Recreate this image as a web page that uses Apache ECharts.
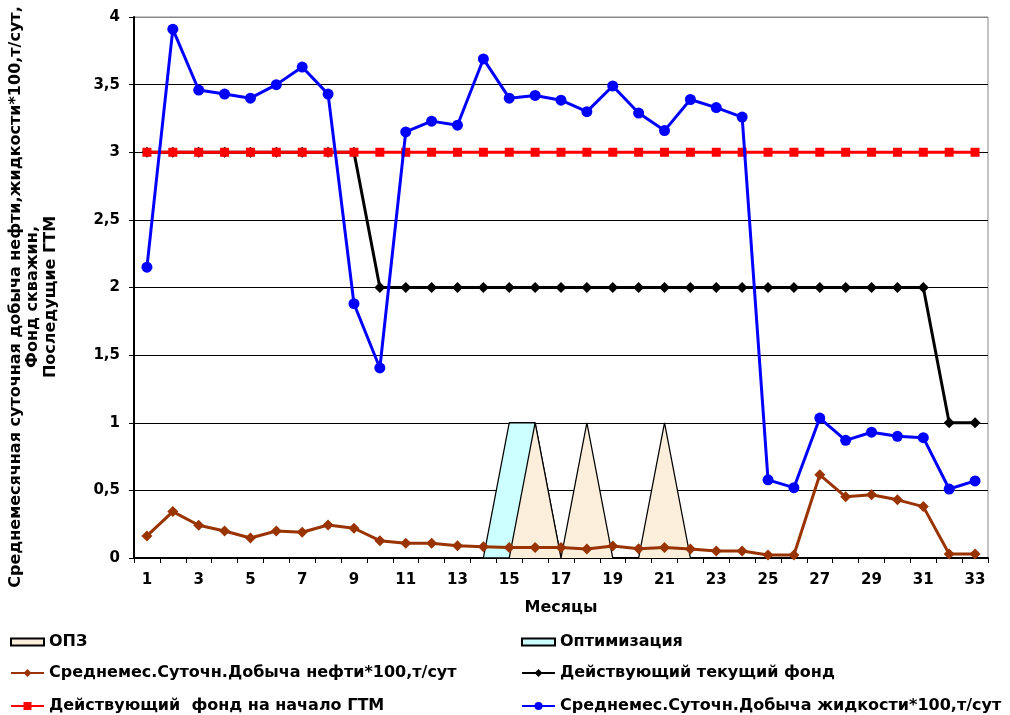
<!DOCTYPE html>
<html>
<head>
<meta charset="utf-8">
<script src="https://cdn.jsdelivr.net/npm/echarts@6/dist/echarts.min.js"></script>
<style>
  html, body { margin: 0; padding: 0; background: #fff; }
  #chart { width: 1010px; height: 715px; }
</style>
</head>
<body>
<div id="chart"></div>
<script>
// Months 1..33
const months = [];
for (let m = 1; m <= 33; m++) months.push(String(m));

// Well treatments (ОПЗ) and optimisation events, 1 = event in that month
const opzValues = [0,0,0,0,0,0,0,0,0,0,0,0,0,0,0,1,0,1,0,0,1,0,0,0,0,0,0,0,0,0,0,0,0];
const optimValues = [0,0,0,0,0,0,0,0,0,0,0,0,0,0,1,1,0,0,0,0,0,0,0,0,0,0,0,0,0,0,0,0,0];

// Average daily oil production *100, t/day
const oilValues = [0.163,0.343,0.242,0.20,0.148,0.20,0.19,0.244,0.22,0.128,0.109,0.109,0.091,0.084,0.077,0.077,0.077,0.067,0.089,0.069,0.077,0.067,0.052,0.052,0.022,0.022,0.615,0.452,0.467,0.43,0.38,0.03,0.03];

// Active current well stock
const currentFund = [3,3,3,3,3,3,3,3,3,2,2,2,2,2,2,2,2,2,2,2,2,2,2,2,2,2,2,2,2,2,2,1,1];

// Active stock at the start of the measures
const startFund = [3,3,3,3,3,3,3,3,3,3,3,3,3,3,3,3,3,3,3,3,3,3,3,3,3,3,3,3,3,3,3,3,3];

// Average daily liquid production *100, t/day
const liquidValues = [2.15,3.91,3.46,3.43,3.40,3.50,3.63,3.43,1.88,1.405,3.15,3.23,3.20,3.69,3.40,3.42,3.385,3.30,3.49,3.29,3.16,3.39,3.33,3.26,0.578,0.52,1.035,0.87,0.93,0.90,0.89,0.51,0.57];

const yTicks = { min: 0, max: 4, interval: 0.5 };

const FONT = 'DejaVu Sans';

const names = {
  opz: 'ОПЗ',
  optim: 'Оптимизация',
  oil: 'Среднемес.Суточн.Добыча нефти*100,т/сут',
  cur: 'Действующий текущий фонд',
  start: 'Действующий  фонд на начало ГТМ',
  liq: 'Среднемес.Суточн.Добыча жидкости*100,т/сут'
};

const yTitle = 'Среднемесячная суточная добыча нефти,жидкости*100,т/сут,\nФонд скважин,\nПоследущие ГТМ';

const legendText = { fontFamily: FONT, fontWeight: 'bold', fontSize: 16, color: '#000' };

function legendAt(name, left, top, areaIcon) {
  const l = {
    data: [name],
    left: left, top: top,
    orient: 'horizontal',
    itemGap: 0,
    textStyle: legendText,
    selectedMode: false,
    itemWidth: 33,
    itemHeight: areaIcon ? 7 : 10,
    padding: 0
  };
  if (areaIcon) l.icon = 'rect';
  return l;
}

const chart = echarts.init(document.getElementById('chart'), null, { renderer: 'canvas' });

chart.setOption({
  animation: false,
  backgroundColor: '#fff',
  grid: {
    left: 134, right: 22, top: 17, bottom: 157,
    show: true, borderColor: '#888', borderWidth: 1
  },
  graphic: [{
    type: 'text',
    x: 33, y: 297,
    rotation: Math.PI / 2,
    style: {
      text: yTitle,
      fontFamily: FONT, fontWeight: 'bold', fontSize: 16, lineHeight: 17.5,
      fill: '#000', align: 'center', verticalAlign: 'middle'
    }
  }],
  legend: [
    legendAt(names.opz, 10, 634, true),
    legendAt(names.optim, 521, 634, true),
    legendAt(names.oil, 10, 665, false),
    legendAt(names.cur, 521, 665, false),
    legendAt(names.start, 10, 698, false),
    legendAt(names.liq, 521, 698, false)
  ],
  xAxis: {
    type: 'category',
    data: months,
    boundaryGap: true,
    name: 'Месяцы',
    nameLocation: 'middle',
    nameGap: 42,
    nameTextStyle: { fontFamily: FONT, fontWeight: 'bold', fontSize: 16, color: '#000' },
    axisLine: { lineStyle: { color: '#000', width: 2 } },
    axisTick: { show: true, interval: 0, length: 5, lineStyle: { color: '#000', width: 1 } },
    axisLabel: {
      interval: 1, margin: 15,
      fontFamily: FONT, fontWeight: 'bold', fontSize: 15, color: '#000'
    },
    splitLine: { show: false }
  },
  yAxis: {
    type: 'value',
    min: yTicks.min, max: yTicks.max, interval: yTicks.interval,
    axisLine: { show: true, lineStyle: { color: '#000', width: 2 } },
    axisTick: { show: true, length: 5, lineStyle: { color: '#000', width: 1 } },
    axisLabel: {
      margin: 14,
      fontFamily: FONT, fontWeight: 'bold', fontSize: 15, color: '#000',
      formatter: v => String(v).replace('.', ',')
    },
    splitLine: { show: true, lineStyle: { color: ['#000','#000','#000','#000','#000','#000','#000','#000','#888'], width: 1 } }
  },
  series: [
    {
      name: names.optim, type: 'line', data: optimValues,
      symbol: 'none', z: 1,
      lineStyle: { color: '#000', width: 1.3 },
      itemStyle: { color: '#CCFFFF', borderColor: '#000', borderWidth: 1 },
      areaStyle: { color: '#CCFFFF', opacity: 1 }
    },
    {
      name: names.opz, type: 'line', data: opzValues,
      symbol: 'none', z: 2,
      lineStyle: { color: '#000', width: 1.3 },
      itemStyle: { color: '#FBEEDB', borderColor: '#000', borderWidth: 1 },
      areaStyle: { color: '#FBEEDB', opacity: 1 }
    },
    {
      name: names.oil, type: 'line', data: oilValues,
      symbol: 'diamond', symbolSize: 11, z: 3,
      lineStyle: { color: '#993300', width: 3 },
      itemStyle: { color: '#993300' }
    },
    {
      name: names.cur, type: 'line', data: currentFund,
      symbol: 'diamond', symbolSize: 11, z: 4,
      lineStyle: { color: '#000', width: 3 },
      itemStyle: { color: '#000' }
    },
    {
      name: names.start, type: 'line', data: startFund,
      symbol: 'rect', symbolSize: 9, z: 5,
      lineStyle: { color: '#FF0000', width: 3 },
      itemStyle: { color: '#FF0000' }
    },
    {
      name: names.liq, type: 'line', data: liquidValues,
      symbol: 'circle', symbolSize: 11, z: 6,
      lineStyle: { color: '#0000FF', width: 3 },
      itemStyle: { color: '#0000FF' }
    }
  ]
});
</script>
</body>
</html>
